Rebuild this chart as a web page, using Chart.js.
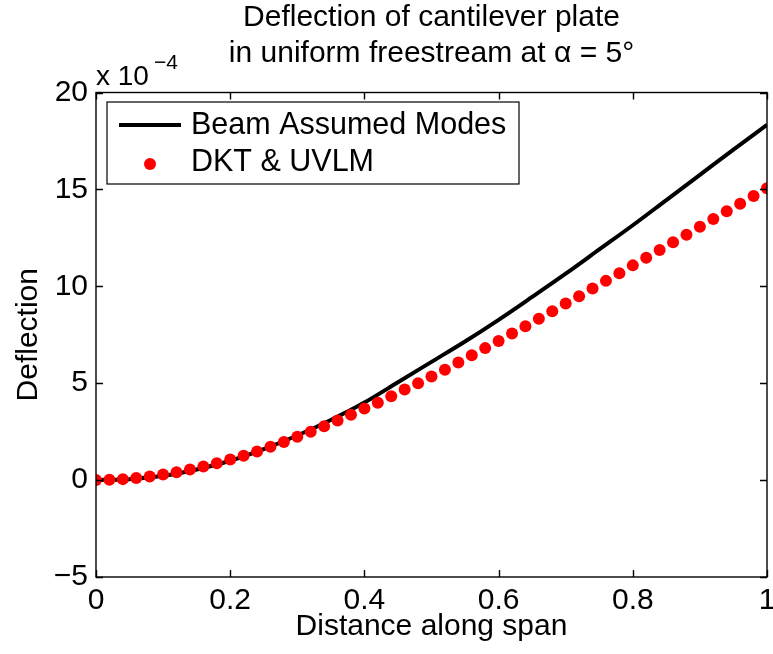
<!DOCTYPE html>
<html>
<head>
<meta charset="utf-8">
<title>Deflection of cantilever plate</title>
<script src="https://cdn.jsdelivr.net/npm/chart.js@4.4.1/dist/chart.umd.min.js"></script>
<style>
  html, body { margin: 0; padding: 0; background: #ffffff; }
  #wrap { width: 773px; height: 654px; }
</style>
</head>
<body>
<div id="wrap"><canvas id="chart" width="773" height="654"></canvas></div>
<script>
// Span positions and deflections (deflection in units of 1e-4)
const beamX = [0, 0.05, 0.10, 0.15, 0.20, 0.25, 0.30, 0.35, 0.40, 0.45, 0.50,
               0.55, 0.60, 0.65, 0.70, 0.75, 0.80, 0.85, 0.90, 0.95, 1.00];
const beamDeflection = [0, 0.05, 0.22, 0.55, 1.00, 1.60, 2.30, 3.10, 4.00, 5.05, 6.10,
                        7.15, 8.27, 9.45, 10.65, 11.90, 13.15, 14.45, 15.75, 17.05, 18.33];

const dktX = [0, 0.02, 0.04, 0.06, 0.08, 0.10, 0.12, 0.14, 0.16, 0.18,
              0.20, 0.22, 0.24, 0.26, 0.28, 0.30, 0.32, 0.34, 0.36, 0.38,
              0.40, 0.42, 0.44, 0.46, 0.48, 0.50, 0.52, 0.54, 0.56, 0.58,
              0.60, 0.62, 0.64, 0.66, 0.68, 0.70, 0.72, 0.74, 0.76, 0.78,
              0.80, 0.82, 0.84, 0.86, 0.88, 0.90, 0.92, 0.94, 0.96, 0.98, 1.00];
const dktDeflection = [0.00, 0.02, 0.05, 0.11, 0.19, 0.29, 0.41, 0.55, 0.70, 0.87,
                       1.06, 1.26, 1.48, 1.72, 1.97, 2.24, 2.50, 2.78, 3.07, 3.37,
                       3.69, 3.99, 4.33, 4.68, 5.00, 5.35, 5.70, 6.07, 6.44, 6.81,
                       7.18, 7.56, 7.94, 8.33, 8.71, 9.11, 9.49, 9.89, 10.28, 10.67,
                       11.08, 11.47, 11.87, 12.27, 12.66, 13.07, 13.47, 13.87, 14.26, 14.66, 15.06];

const xTicks = [0, 0.2, 0.4, 0.6, 0.8, 1];
const yTicks = [-5, 0, 5, 10, 15, 20];
const seriesNames = ['Beam Assumed Modes', 'DKT & UVLM'];
const titleLines = ['Deflection of cantilever plate', 'in uniform freestream at \u03b1 = 5\u00b0'];

const FONT = '"Liberation Sans", Arial, Helvetica, sans-serif';

function toPoints(xs, ys) {
  return xs.map((x, i) => ({ x: x, y: ys[i] }));
}

// Tick text with a true minus sign
function tickText(v) {
  return String(v).replace('-', '\u2212');
}

// Closed axes box with inward tick marks on all four sides
const boxAxes = {
  id: 'boxAxes',
  afterDatasetsDraw(chart) {
    const { ctx, chartArea: a, scales } = chart;
    const len = 7;
    ctx.save();
    ctx.strokeStyle = '#000';
    ctx.lineWidth = 1.4;
    ctx.beginPath();
    xTicks.forEach(v => {
      const px = Math.round(scales.x.getPixelForValue(v)) + 0.5;
      ctx.moveTo(px, a.bottom); ctx.lineTo(px, a.bottom - len);
      ctx.moveTo(px, a.top); ctx.lineTo(px, a.top + len);
    });
    yTicks.forEach(v => {
      const py = Math.round(scales.y.getPixelForValue(v)) + 0.5;
      ctx.moveTo(a.left, py); ctx.lineTo(a.left + len, py);
      ctx.moveTo(a.right, py); ctx.lineTo(a.right - len, py);
    });
    ctx.stroke();
    ctx.strokeRect(a.left, a.top, a.right - a.left, a.bottom - a.top);
    ctx.restore();
  }
};

// Scale factor note above the y axis
const exponentNote = {
  id: 'exponentNote',
  afterDraw(chart) {
    const { ctx, chartArea: a } = chart;
    ctx.save();
    ctx.fillStyle = '#000';
    ctx.textBaseline = 'alphabetic';
    ctx.textAlign = 'left';
    ctx.font = '28px ' + FONT;
    ctx.fillText('x 10', a.left, a.top - 8);
    const w = ctx.measureText('x 10').width;
    ctx.font = '21px ' + FONT;
    ctx.fillText('\u22124', a.left + w + 5, a.top - 24);
    ctx.restore();
  }
};

// Boxed legend in the upper-left of the plot area
const boxedLegend = {
  id: 'boxedLegend',
  afterDraw(chart) {
    const { ctx, chartArea: a } = chart;
    const ds = chart.data.datasets;
    const x0 = a.left + 11, y0 = a.top + 9.5, w = 412, h = 82;
    ctx.save();
    ctx.fillStyle = '#fff';
    ctx.fillRect(x0, y0, w, h);
    ctx.strokeStyle = '#000';
    ctx.lineWidth = 1.2;
    ctx.strokeRect(x0, y0, w, h);
    // line sample
    const rowY1 = y0 + 23, rowY2 = y0 + 62;
    ctx.strokeStyle = ds[0].borderColor;
    ctx.lineWidth = ds[0].borderWidth;
    ctx.beginPath();
    ctx.moveTo(x0 + 12, rowY1); ctx.lineTo(x0 + 74, rowY1);
    ctx.stroke();
    // marker sample
    ctx.fillStyle = ds[1].pointBackgroundColor;
    ctx.beginPath();
    ctx.arc(x0 + 43, rowY2, ds[1].pointRadius, 0, Math.PI * 2);
    ctx.fill();
    // labels
    ctx.fillStyle = '#000';
    ctx.font = '30.5px ' + FONT;
    ctx.textBaseline = 'middle';
    ctx.textAlign = 'left';
    ctx.fillText(ds[0].label, x0 + 84, rowY1 + 1);
    ctx.fillText(ds[1].label, x0 + 84, rowY2 - 1);
    ctx.restore();
  }
};

new Chart(document.getElementById('chart'), {
  type: 'scatter',
  data: {
    datasets: [
      {
        label: seriesNames[0],
        data: toPoints(beamX, beamDeflection),
        showLine: true,
        borderColor: '#000000',
        borderWidth: 4,
        pointRadius: 0,
        pointHoverRadius: 0,
        cubicInterpolationMode: 'monotone',
        order: 2
      },
      {
        label: seriesNames[1],
        data: toPoints(dktX, dktDeflection),
        showLine: false,
        pointRadius: 6,
        pointBackgroundColor: '#ff0000',
        pointBorderWidth: 0,
        pointBorderColor: '#ff0000',
        order: 1
      }
    ]
  },
  options: {
    responsive: false,
    animation: false,
    events: [],
    layout: { padding: { left: 0, right: 2, top: 0, bottom: 0 } },
    plugins: {
      legend: { display: false },
      tooltip: { enabled: false },
      title: {
        display: true,
        text: titleLines,
        fullSize: false,
        color: '#000',
        font: { family: FONT, size: 30, weight: 'normal', lineHeight: 1.2 },
        padding: { top: 0, bottom: 20.5 }
      }
    },
    scales: {
      x: {
        type: 'linear',
        min: 0,
        max: 1,
        grid: { display: false, drawTicks: false },
        border: { display: false },
        afterBuildTicks: s => { s.ticks = xTicks.map(v => ({ value: v })); },
        ticks: {
          color: '#000',
          font: { family: FONT, size: 30 },
          padding: 6,
          maxRotation: 0,
          autoSkip: false,
          callback: v => tickText(v)
        },
        title: {
          display: true,
          text: 'Distance along span',
          color: '#000',
          font: { family: FONT, size: 30, lineHeight: 1.2 },
          padding: { top: 9, bottom: 9 }
        },
        afterFit: s => { s.height = 77; s.paddingLeft = 0; s.paddingRight = 0; }
      },
      y: {
        type: 'linear',
        min: -5,
        max: 20,
        grid: { display: false, drawTicks: false },
        border: { display: false },
        afterBuildTicks: s => { s.ticks = yTicks.map(v => ({ value: v })); },
        ticks: {
          color: '#000',
          font: { family: FONT, size: 30 },
          padding: 8,
          autoSkip: false,
          callback: v => tickText(v)
        },
        title: {
          display: true,
          text: 'Deflection',
          color: '#000',
          font: { family: FONT, size: 30, lineHeight: 1.2 },
          padding: { top: 10.5, bottom: 0 }
        },
        afterFit: s => { s.width = 96; s.paddingTop = 0; s.paddingBottom = 0; }
      }
    }
  },
  plugins: [boxAxes, exponentNote, boxedLegend]
});
</script>
</body>
</html>
